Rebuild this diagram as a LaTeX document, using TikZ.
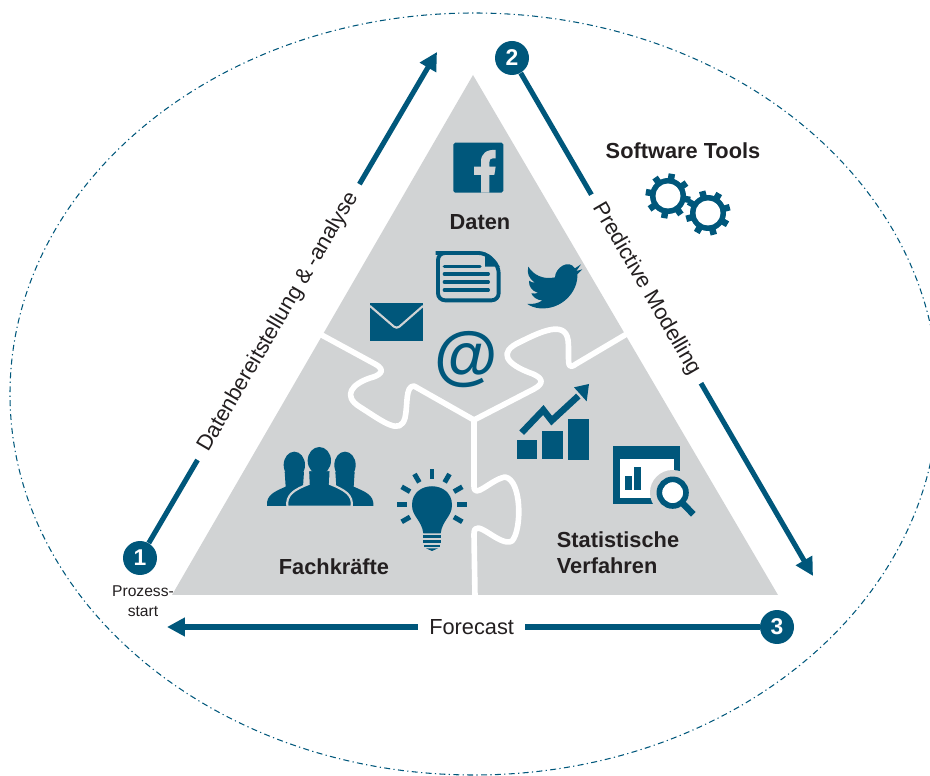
\documentclass[tikz,border=0pt]{standalone}
\usepackage{fontspec}
\setmainfont{Liberation Sans}
\usetikzlibrary{arrows.meta}
\definecolor{petrol}{HTML}{00577B}
\definecolor{puzzlegray}{HTML}{D1D3D4}
\definecolor{inkdark}{HTML}{231F20}
\tikzset{
  flow/.style={draw=petrol,line width=2.9pt,-{Triangle[length=0.36cm,width=0.36cm]}},
  numbered/.style={circle,fill=petrol,text=white,inner sep=0pt,minimum size=0.68cm,font=\bfseries\fontsize{13}{13}\selectfont},
  steplabel/.style={fill=white,text=inkdark,inner ysep=1pt,inner xsep=6.5pt,font=\fontsize{12.4}{12.4}\selectfont},
  heading/.style={text=inkdark,align=left,font=\bfseries\fontsize{12.4}{14.6}\selectfont},
  puzzlecut/.style={draw=white,line width=3.2pt,line join=round},
  iconfill/.style={fill=petrol,draw=none},
  iconline/.style={draw=petrol,line width=#1}
}
\begin{document}
\begin{tikzpicture}[x=0.02cm,y=-0.02cm]
  \useasboundingbox (0,0) rectangle (930,776);

  \draw[petrol,line width=0.6pt,dash pattern=on 3.4pt off 1.9pt on 0.7pt off 1.9pt] (474,394) ellipse (464 and 381);

  \fill[puzzlegray] (473,75) -- (778,595) -- (172,595) -- cycle;

  % puzzle cuts
  \draw[puzzlecut] (318,333) -- (375,364) .. controls (388,371) and (378,376) .. (370,378)
    .. controls (352,384) and (342,396) .. (360,407) .. controls (385,423) and (400,435) .. (405,418)
    .. controls (408,405) and (405,386) .. (414,386) -- (474,420) -- (534,389)
    .. controls (545,383) and (542,378) .. (533,374) .. controls (505,364) and (498,352) .. (520,342)
    .. controls (540,332) and (565,320) .. (568,340) .. controls (570,358) and (565,372) .. (576,364) -- (630,332);
  \draw[puzzlecut] (474,420) -- (474,486) .. controls (474,500) and (490,480) .. (505,477)
    .. controls (522,480) and (522,530) .. (512,541) .. controls (500,548) and (474,515) .. (474,534) -- (475,597);

  % steps round the triangle
  \node[numbered] (n1) at (140,558) {1};
  \node[numbered] (n2) at (512,58) {2};
  \node[numbered] (n3) at (777,627) {3};
  \coordinate (tipA) at (437,52);
  \coordinate (tipB) at (813,576);
  \coordinate (tipC) at (167,627);
  \draw[flow] (n1) -- node[steplabel,sloped,pos=.45] (lblA) {Datenbereitstellung \& -analyse} (tipA);
  \draw[flow] (n2) -- node[steplabel,sloped,pos=.425,xshift=0.05cm] (lblB) {Predictive Modelling} (tipB);
  \draw[flow] (n3) -- node[steplabel,pos=.486] (lblC) {Forecast} (tipC);

  \node[text=inkdark,align=center,font=\fontsize{8.9}{11.4}\selectfont] (start) at (143,601) {Prozess-\\start};
  \node[heading] (daten) at (480,222) {Daten};
  \node[heading] (fach) at (334,567) {Fachkräfte};
  \node[heading] (stat) at (618,553) {Statistische\\Verfahren};
  \node[heading] (tools) at (683,151) {Software Tools};

  % gears
  \foreach \cx/\cy/\off in {668/196/10,708/213/30} {
    \foreach \a in {0,45,...,315}
      \draw[iconline=3.7pt] ({\cx+14*cos(\a+\off)},{\cy+14*sin(\a+\off)}) -- ({\cx+22.5*cos(\a+\off)},{\cy+22.5*sin(\a+\off)});
    \fill[petrol] (\cx,\cy) circle (18);
    \fill[white] (\cx,\cy) circle (12.5);
  }

  % top piece
  \begin{scope}[shift={(320,120)},scale=1/3]
    \fill[iconfill,rounded corners=1pt] (400,68) rectangle (550,218);
    \fill[puzzlegray] (483,218) -- (483,165) -- (462,165) -- (462,140) -- (483,140) -- (483,125)
      .. controls (483,100) and (500,88) .. (527,90) -- (527,115) -- (518,115)
      .. controls (510,115) and (508,120) .. (508,128) -- (508,140) -- (527,140) -- (523,165) -- (508,165) -- (508,218) -- cycle;
    \draw[iconline=2.2pt,rounded corners=4pt] (368,399) -- (497,399) -- (536,438) -- (536,541) -- (354,541) -- (354,399) -- cycle;
    \fill[iconfill] (495,397) -- (540,440) -- (495,440) -- cycle;
    \foreach \ya/\xb in {440/480,462/505,486/505,510/505}
      \draw[iconline=1.9pt,line cap=round] (373,\ya) -- (\xb,\ya);
    \fill[iconfill] (150,550) rectangle (309,662);
    \draw[puzzlegray,line width=1.2pt,rounded corners=2pt] (150,558) -- (230,627) -- (309,558);
    \fill[iconfill] (625,440) .. controls (640,465) and (670,480) .. (705,472)
      .. controls (705,445) and (745,415) .. (765,445) -- (783,433) -- (769,453) -- (787,448) -- (772,463)
      .. controls (775,515) and (725,570) .. (660,565) .. controls (645,564) and (630,558) .. (622,552)
      .. controls (640,553) and (655,550) .. (667,541) .. controls (650,541) and (638,530) .. (634,520)
      .. controls (640,521) and (648,521) .. (654,519) .. controls (635,512) and (626,500) .. (627,482)
      .. controls (632,486) and (638,488) .. (645,488) .. controls (626,475) and (620,460) .. (625,440) -- cycle;
  \end{scope}
  \node[text=petrol,inner sep=0pt,font=\bfseries\fontsize{37}{37}\selectfont] (at) at (466,360) {@};

  % left piece
  \begin{scope}[shift={(250,370)},scale=1/3]
    \foreach \hx in {133,285} {
      \fill[iconfill] (\hx,285) ellipse (32 and 40);
      \fill[iconfill] (\hx-82,408) .. controls (\hx-85,375) and (\hx-60,365) .. (\hx-26,350) -- (\hx-29,305) -- (\hx+29,305) -- (\hx+26,350)
        .. controls (\hx+60,365) and (\hx+88,375) .. (\hx+85,408) -- cycle;
    }
    \draw[fill=petrol,draw=puzzlegray,line width=1.2pt] (112,410) .. controls (108,375) and (130,360) .. (176,342) -- (174,300) -- (242,300) -- (240,342)
      .. controls (285,360) and (310,375) .. (305,410) -- cycle;
    \fill[iconfill] (208,272) ellipse (35 and 41);
    \fill[iconfill] (520,490) .. controls (515,450) and (486,440) .. (486,405)
      .. controls (486,330) and (606,330) .. (606,405) .. controls (606,440) and (577,450) .. (572,490) -- cycle;
    \foreach \yb/\hw in {500/27,514/26,528/24}
      \draw[iconline=1.4pt] (546-\hw,\yb) -- (546+\hw,\yb);
    \fill[iconfill] (528,535) -- (564,535) -- (546,543) -- cycle;
    \foreach \a in {-150,-120,-90,-60,-30,0,30,150,180}
      \draw[iconline=2.8pt] ({546+76*cos(\a)},{403+76*sin(\a)}) -- ({546+105*cos(\a)},{403+105*sin(\a)});
  \end{scope}

  % right piece
  \begin{scope}[shift={(250,370)},scale=1/3]
    \fill[iconfill] (801,210) rectangle (861,267);
    \fill[iconfill] (876,183) rectangle (939,267);
    \fill[iconfill] (954,147) rectangle (1017,270);
    \draw[iconline=3.7pt,line join=miter] (815,188) -- (880,120) -- (905,152) -- (985,78);
    \fill[iconfill] (1017,42) -- (972,52) -- (1010,94) -- cycle;
    \fill[iconfill] (1090,228) rectangle (1290,403);
    \fill[white] (1110,268) rectangle (1272,385);
    \fill[iconfill] (1124,318) rectangle (1145,360);
    \fill[iconfill] (1152,292) rectangle (1172,360);
    \fill[puzzlegray] (1268,368) circle (68);
    \draw[iconline=3.7pt,line cap=butt] (1298,400) -- (1330,433);
    \draw[iconline=3.2pt,fill=white] (1268,368) circle (40);
  \end{scope}
\end{tikzpicture}
\end{document}
